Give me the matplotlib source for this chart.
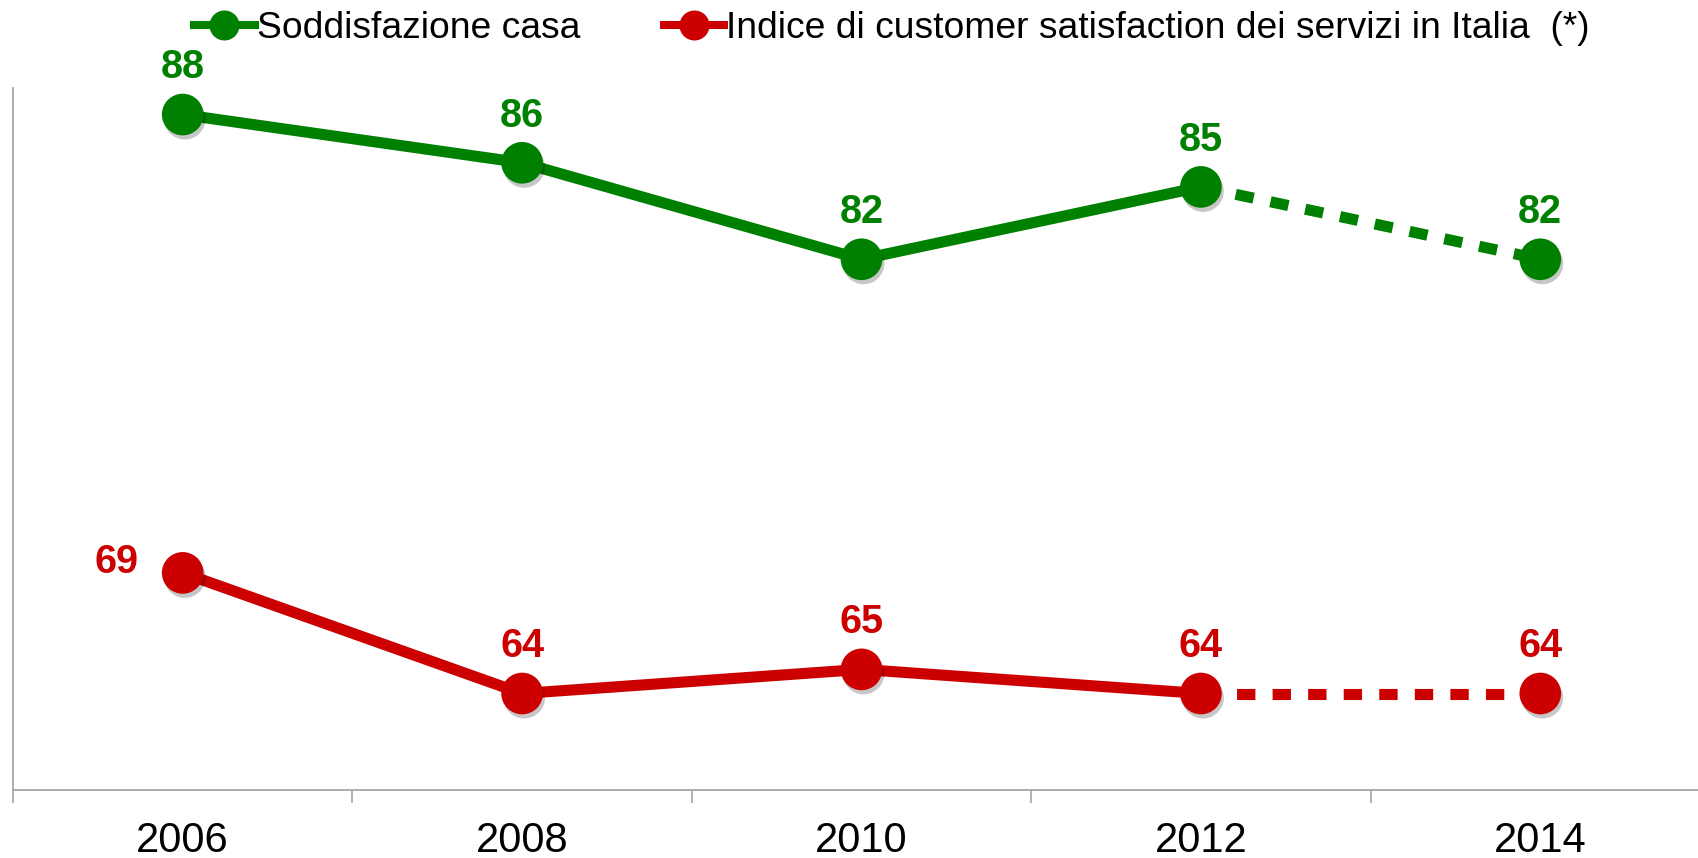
import matplotlib
matplotlib.use("Agg")
import matplotlib.pyplot as plt
import matplotlib.patheffects as pe

years = ["2006", "2008", "2010", "2012", "2014"]
casa = [88, 86, 82, 85, 82]
italia = [69, 64, 65, 64, 64]
label_casa = "Soddisfazione casa"
label_italia = "Indice di customer satisfaction dei servizi in Italia  (*)"

GREEN = "#008000"
RED = "#CC0000"
GRAY = "#A6A6A6"

plt.rcParams['font.family'] = ['Liberation Sans', 'DejaVu Sans']

fig = plt.figure(figsize=(16.98, 8.58), dpi=100)
ax = fig.add_axes([13/1698, 68/858, 1697/1698, 702/858])

x = list(range(len(years)))
shadow = [pe.SimplePatchShadow(offset=(1.5, -3), alpha=0.22, shadow_rgbFace='black'), pe.Normal()]

lw = 8
ms = 30
for vals, col, lab in [(casa, GREEN, label_casa), (italia, RED, label_italia)]:
    ax.plot(x[:4], vals[:4], color=col, lw=lw, solid_capstyle='butt', zorder=2)
    ax.plot(x[3:], vals[3:], color=col, lw=lw, linestyle=(0, (1.65, 1.55)), dash_capstyle='butt', zorder=2)
    ax.plot(x, vals, linestyle='none', marker='o', ms=ms, mfc=col, mew=0, zorder=3,
            path_effects=shadow)
    # legend proxy
    ax.plot([], [], color=col, lw=5.8, marker='o', ms=21.6, mew=0, label=lab)

for i, v in enumerate(casa):
    ax.annotate(str(v), (i, v), xytext=(0, 34), textcoords='offset points',
                ha='center', va='center', fontsize=28.5, fontweight='bold', color=GREEN,
                annotation_clip=False)
for i, v in enumerate(italia):
    off = (-48, 8) if i == 0 else (0, 34)
    ax.annotate(str(v), (i, v), xytext=off, textcoords='offset points',
                ha='center', va='center', fontsize=28.5, fontweight='bold', color=RED,
                annotation_clip=False)

ax.set_xlim(-0.5, 4.5)
ax.set_ylim(60, 89.1)
ax.set_xticks(x)
ax.set_xticklabels(years, fontsize=30)
ax.set_xticks([i - 0.5 for i in range(len(years) + 1)], minor=True)
ax.tick_params(axis='x', which='major', length=0, pad=22)
ax.tick_params(axis='x', which='minor', length=9.5, width=1.2, color=GRAY, direction='out')
ax.set_yticks([])
for s in ['top', 'right']:
    ax.spines[s].set_visible(False)
for s in ['left', 'bottom']:
    ax.spines[s].set_color(GRAY)
    ax.spines[s].set_linewidth(1.3)

handles, labels = ax.get_legend_handles_labels()
leg = fig.legend(handles[-2:], labels[-2:], loc='center left',
                 bbox_to_anchor=(194/1698, 1 - 29/858), ncol=2, frameon=False,
                 fontsize=26.8, handlelength=1.63, handletextpad=0.05, columnspacing=2.25,
                 borderpad=0, borderaxespad=0)

fig.savefig("out.png", dpi=100)
